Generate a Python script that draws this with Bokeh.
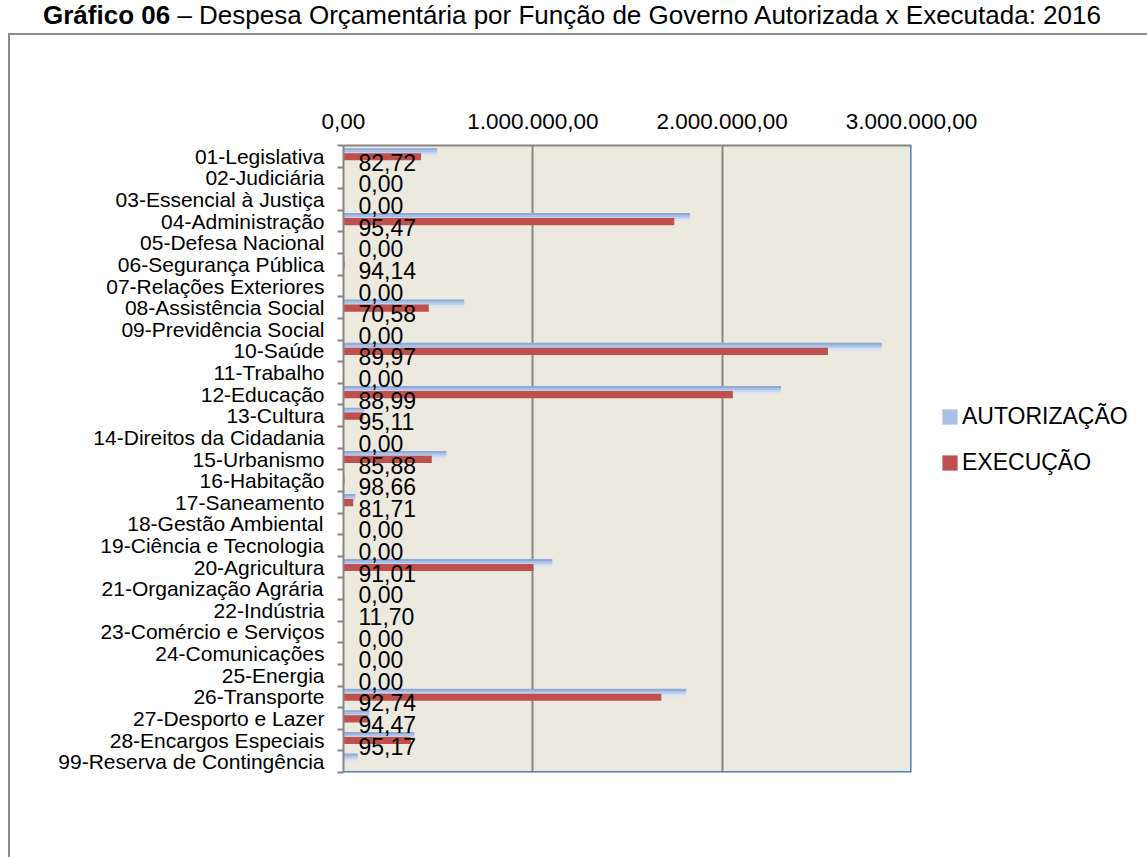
from bokeh.plotting import figure
from bokeh.models import (ColumnDataSource, FixedTicker, Range1d, Legend, LegendItem,
                          Span, Div)
from bokeh.layouts import column
from bokeh.transform import dodge
from bokeh.core.properties import value
from bokeh.embed import file_html
from bokeh.resources import INLINE

# ---------------- data ----------------
categories = [
    "01-Legislativa", "02-Judiciária", "03-Essencial à Justiça", "04-Administração",
    "05-Defesa Nacional", "06-Segurança Pública", "07-Relações Exteriores",
    "08-Assistência Social", "09-Previdência Social", "10-Saúde", "11-Trabalho",
    "12-Educação", "13-Cultura", "14-Direitos da Cidadania", "15-Urbanismo",
    "16-Habitação", "17-Saneamento", "18-Gestão Ambiental", "19-Ciência e Tecnologia",
    "20-Agricultura", "21-Organização Agrária", "22-Indústria", "23-Comércio e Serviços",
    "24-Comunicações", "25-Energia", "26-Transporte", "27-Desporto e Lazer",
    "28-Encargos Especiais", "99-Reserva de Contingência",
]
autorizacao = [
    495000, 0, 0, 1830000, 0, 6000, 0, 638000, 0, 2844000, 0, 2311000, 110000, 0,
    543000, 5000, 63000, 0, 0, 1103000, 0, 2000, 0, 0, 0, 1810000, 137000, 374000, 75000,
]
execucao = [
    409500, 0, 0, 1747100, 0, 5650, 0, 450300, 0, 2558700, 0, 2056500, 104600, 0,
    466300, 4930, 51500, 0, 0, 1003800, 0, 234, 0, 0, 0, 1678600, 129400, 355900, 0,
]
exec_pct_labels = [
    "82,72", "0,00", "0,00", "95,47", "0,00", "94,14", "0,00", "70,58", "0,00",
    "89,97", "0,00", "88,99", "95,11", "0,00", "85,88", "98,66", "81,71", "0,00",
    "0,00", "91,01", "0,00", "11,70", "0,00", "0,00", "0,00", "92,74", "94,47",
    "95,17", "",
]
x_tick_values = [0, 1000000, 2000000, 3000000]
x_tick_labels = ["0,00", "1.000.000,00", "2.000.000,00", "3.000.000,00"]
series_names = ["AUTORIZAÇÃO", "EXECUÇÃO"]
title_bold = "Gráfico 06"
title_rest = " – Despesa Orçamentária por Função de Governo Autorizada x Executada: 2016"

# ---------------- style ----------------
FONT = "Liberation Sans"
GRAY = "#868686"
BORDER_GRAY = "#8C8C8C"
BLUE_EDGE = "#4F81BD"
RED = "#C0504D"
BLUE_STRIPS = ["#8EAADB", "#A9BFE4", "#C3D3ED", "#DCE5F4"]

n = len(categories)
centers = [n - 0.5 - i for i in range(n)]
src = ColumnDataSource(dict(y=centers, aut=autorizacao, exe=execucao, lbl=exec_pct_labels))

# title (HTML, above the chart box)
title_div = Div(
    text=f"<b>{title_bold}</b>{title_rest}",
    width=1147, height=30, margin=0,
    styles={"font-family": FONT, "font-size": "26px", "line-height": "30px",
            "color": "black", "white-space": "nowrap", "padding-left": "43px"},
)

p = figure(output_backend="svg", toolbar_location=None, title=None,
           x_range=Range1d(x_tick_values[0], x_tick_values[-1]), y_range=Range1d(0, n),
           x_axis_location="above",
           frame_width=568, frame_height=627,
           min_border_left=343, min_border_right=236, min_border_top=115, min_border_bottom=85,
           background_fill_color="#ECEADF", border_fill_color=None,
           outline_line_color=None)
p.margin = 0
# outer chart box (left and top edges) drawn as CSS background lines
p.styles = {
    "background-image": f"linear-gradient({BORDER_GRAY},{BORDER_GRAY}), "
                        f"linear-gradient({BORDER_GRAY},{BORDER_GRAY})",
    "background-size": "2px 100%, 100% 2px",
    "background-position": "8px 3px, 8px 3px",
    "background-repeat": "no-repeat",
}

# AUTORIZAÇÃO bars (vertical gradient imitated with strips)
strip_h = 0.09
blue_renderers = []
for k, col in enumerate(BLUE_STRIPS):
    off = 0.37 - strip_h * (k + 0.5)
    r = p.hbar(y=dodge("y", off), left=0, right="aut", height=strip_h * 1.12,
               fill_color=col, line_color=None, source=src)
    blue_renderers.append(r)

# EXECUÇÃO bars
red_r = p.hbar(y=dodge("y", -0.02), left=0, right="exe", height=0.33,
               fill_color=RED, line_color=None, source=src)

# data labels
p.text(x=0, y=dodge("y", -0.28), text="lbl", x_offset=15,
       text_font=value(FONT), text_font_size="23px", text_baseline="middle",
       text_align="left", text_color="black", source=src)

# y axis (categories)
ya = p.yaxis[0]
ya.ticker = FixedTicker(ticks=centers, minor_ticks=list(range(0, n + 1)))
ya.major_label_overrides = {c: name for c, name in zip(centers, categories)}
ya.major_tick_line_color = None
ya.major_tick_out = 0
ya.major_tick_in = 0
ya.minor_tick_line_color = GRAY
ya.minor_tick_line_width = 2
ya.minor_tick_out = 6
ya.minor_tick_in = 0
ya.axis_line_color = GRAY
ya.axis_line_width = 2
ya.major_label_standoff = 13
ya.major_label_text_font = FONT
ya.major_label_text_font_size = "21px"
ya.major_label_text_color = "black"

# x axis (top)
xa = p.xaxis[0]
xa.ticker = FixedTicker(ticks=x_tick_values, minor_ticks=[])
xa.major_label_overrides = dict(zip(x_tick_values, x_tick_labels))
xa.major_tick_line_color = None
xa.major_tick_out = 0
xa.major_tick_in = 0
xa.minor_tick_line_color = None
xa.axis_line_color = GRAY
xa.axis_line_width = 2
xa.major_label_standoff = 17
xa.major_label_text_font = FONT
xa.major_label_text_font_size = "22.5px"
xa.major_label_text_color = "black"

p.xgrid.ticker = FixedTicker(ticks=x_tick_values[1:-1])
p.xgrid.grid_line_color = GRAY
p.xgrid.grid_line_width = 2
p.ygrid.grid_line_color = None

# right / bottom blue frame edges
p.add_layout(Span(location=x_tick_values[-1], dimension="height",
                  line_color=BLUE_EDGE, line_width=3))
p.add_layout(Span(location=0, dimension="width", line_color=BLUE_EDGE, line_width=3))

# legend (right side panel)
legend = Legend(items=[LegendItem(label=series_names[0], renderers=[blue_renderers[1]]),
                       LegendItem(label=series_names[1], renderers=[red_r])],
                location=(29, 296), orientation="vertical",
                glyph_width=19, glyph_height=19, label_standoff=3, spacing=19,
                padding=0, margin=0, border_line_color=None, background_fill_alpha=0,
                label_text_font=FONT, label_text_font_size="23px",
                label_text_color="black", label_height=24)
p.add_layout(legend, "right")

layout = column(title_div, p, margin=0, spacing=0)

open("out.html", "w").write(file_html(layout, INLINE))
